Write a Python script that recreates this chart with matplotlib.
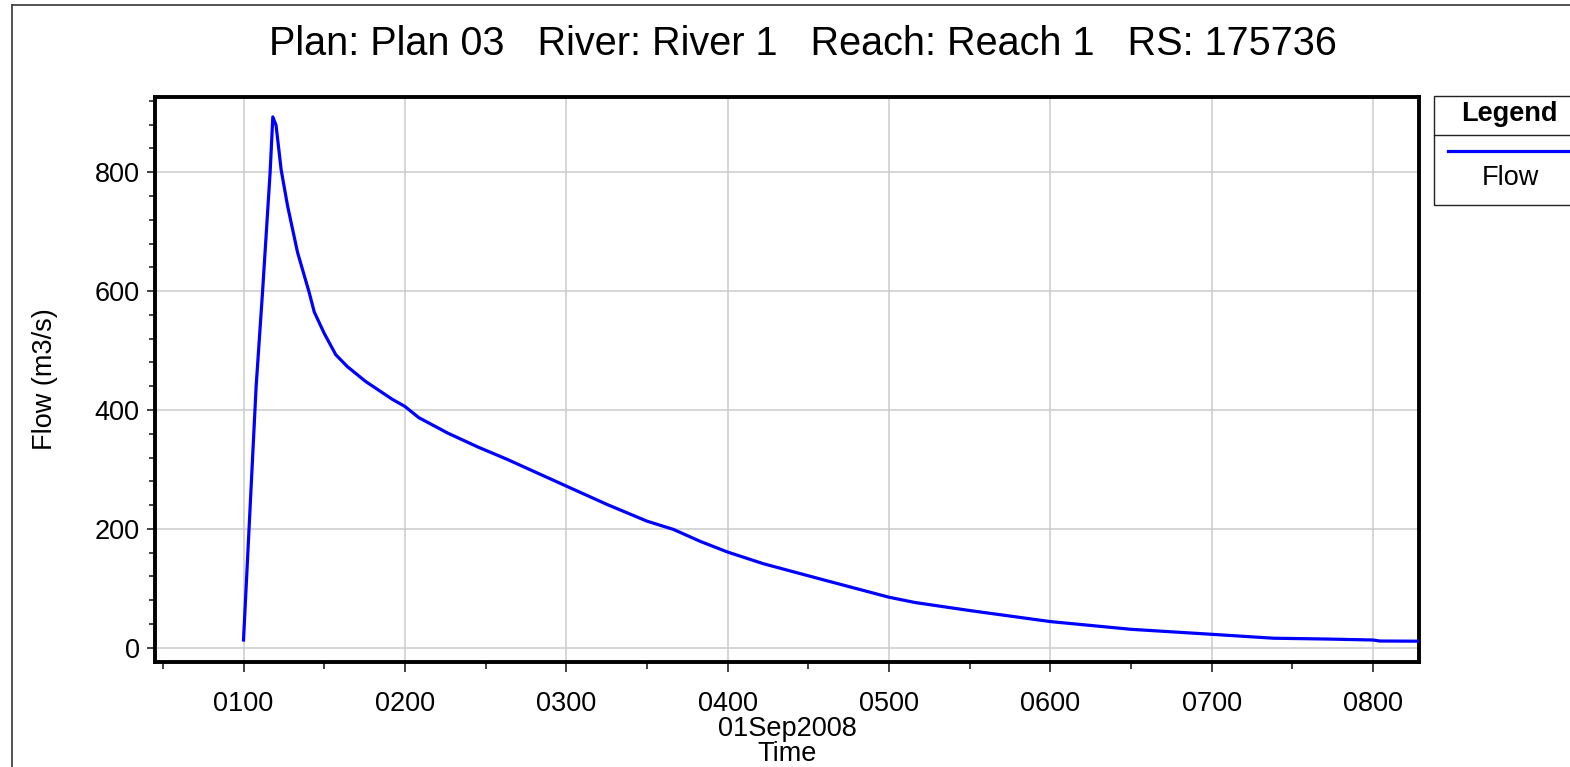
import numpy as np
import matplotlib
matplotlib.use("Agg")
import matplotlib.pyplot as plt
from matplotlib.lines import Line2D
from matplotlib.patches import Rectangle
from matplotlib.ticker import MultipleLocator, FuncFormatter

plt.rcParams['font.family'] = ['Liberation Sans', 'DejaVu Sans']

# Données (minutes après 01:00, débit m3/s)
minutes = [0, 4.7, 7.1, 9.9, 10.9, 12.1, 14.0, 16.4, 20.1, 24.4, 26.3, 30.0,
           34.3, 38.6, 45.4, 55.3, 60.0, 65.2, 76, 87, 98, 120, 135.2, 150,
           159.9, 169.8, 180, 193.2, 215.4, 240, 249.8, 270, 300, 330, 360,
           383, 402, 420, 422.5, 437]
flow = [13, 440, 600, 800, 893, 879, 804, 743, 665, 598, 565, 529,
        493, 473, 448, 418, 406, 387, 361, 338, 317, 272, 241, 213,
        199, 179, 161, 141.5, 114.5, 85, 76, 62.6, 44, 31, 22.6,
        16, 14.7, 13, 11.3, 11]
series_name = "Flow"
title = "Plan: Plan 03   River: River 1   Reach: Reach 1   RS: 175736"
date_label = "01Sep2008"

hours = 1 + np.array(minutes) / 60.0

W, H = 1570, 767
fig = plt.figure(figsize=(W / 100, H / 100), dpi=100)
ax = fig.add_axes([155 / W, 1 - 662 / H, (1419 - 155) / W, (662 - 97) / H])

ax.plot(hours, flow, color='#0000ff', lw=2.3, label=series_name, zorder=3)

ax.set_xlim(0.4515, 8.285)
ax.set_ylim(-24, 926.5)

ax.xaxis.set_major_locator(MultipleLocator(1))
ax.xaxis.set_minor_locator(MultipleLocator(0.5))
ax.xaxis.set_major_formatter(FuncFormatter(lambda v, p: "%02d00" % int(round(v))))
ax.yaxis.set_major_locator(MultipleLocator(200))
ax.yaxis.set_minor_locator(MultipleLocator(40))

ax.grid(True, which='major', color='#cccccc', lw=1.1, zorder=0)
for s in ax.spines.values():
    s.set_linewidth(2.8)
    s.set_color('black')

ax.tick_params(axis='both', which='major', labelsize=19.5, direction='out',
               width=1.2, color='#222222')
ax.tick_params(axis='x', which='major', length=7, pad=14)
ax.tick_params(axis='x', which='minor', length=5, width=1.2, color='#222222')
ax.tick_params(axis='y', which='major', length=6, pad=5)
ax.tick_params(axis='y', which='minor', length=4, width=1.2, color='#222222')

ax.set_ylabel("Flow (m3/s)", fontsize=19.5, labelpad=26)
ax.text(0.5, -0.095, date_label, transform=ax.transAxes, ha='center', va='top',
        fontsize=19.5)
ax.text(0.5, -0.14, "Time", transform=ax.transAxes, ha='center', va='top',
        fontsize=19.5)

fig.text(803 / W, 1 - 44 / H, title, ha='center', va='center', fontsize=28.5)

# Cadre de la figure (haut et gauche)
fig.add_artist(Line2D([12 / W, 12 / W], [0, 1 - 5 / H], color='#444444', lw=1.3))
fig.add_artist(Line2D([12 / W, 1], [1 - 5 / H, 1 - 5 / H], color='#444444', lw=1.3))

# Légende dessinée à la main
def fx(px):
    return px / W

def fy(py):
    return 1 - py / H

fig.add_artist(Rectangle((fx(1434), fy(205)), fx(1575) - fx(1434), fy(96) - fy(205),
                         fill=False, edgecolor='#222222', lw=1.0, transform=fig.transFigure))
fig.add_artist(Line2D([fx(1434), 1], [fy(135), fy(135)], color='#222222', lw=1.0))
fig.text(fx(1509), fy(114), "Legend", ha='center', va='center', fontsize=19.5,
         fontweight='bold')
fig.add_artist(Line2D([fx(1448), 1], [fy(150.5), fy(150.5)], color='#0000ff', lw=2.3))
fig.text(fx(1510), fy(178), series_name, ha='center', va='center', fontsize=19.5)

fig.savefig("out.png", dpi=100)
